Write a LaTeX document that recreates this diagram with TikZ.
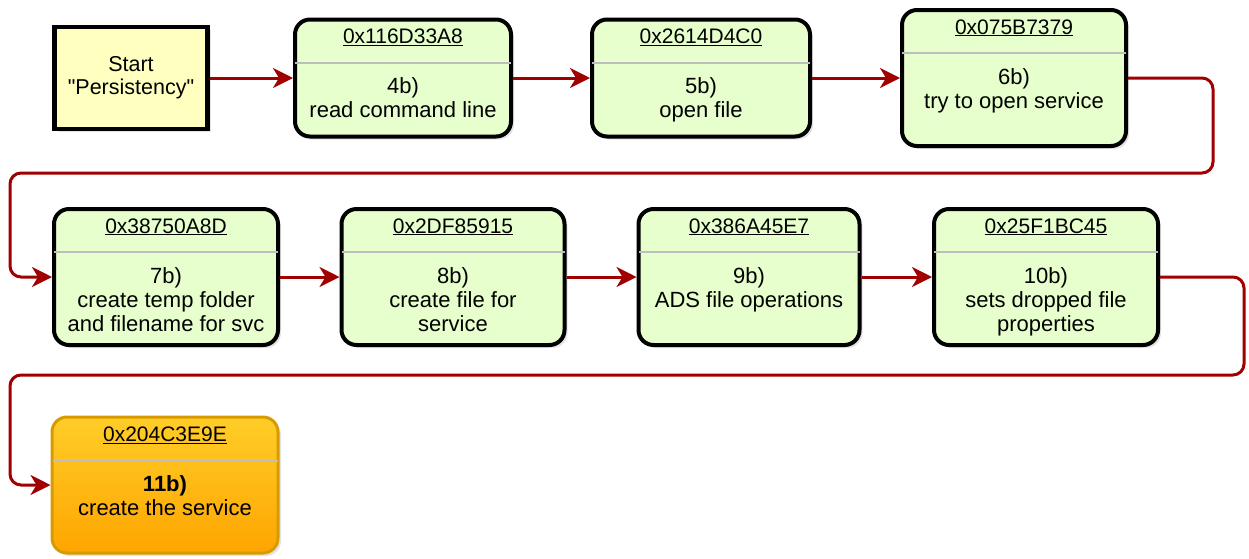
\documentclass[tikz,border=0pt]{standalone}
\usepackage{fontspec}
\setmainfont{Liberation Sans}[Ligatures=TeXOff]
\usetikzlibrary{arrows.meta,shadows,calc}
\definecolor{boxgreen}{HTML}{E6FFCC}
\definecolor{startyellow}{HTML}{FFFFC0}
\definecolor{orangetop}{HTML}{FFCD28}
\definecolor{orangebot}{HTML}{FFA500}
\definecolor{orangeline}{HTML}{D79B00}
\definecolor{connred}{HTML}{A00000}
\definecolor{divgray}{HTML}{BEBEBE}
\newcommand{\mybox}[8][greenbox]{%
  \node[#1, minimum width=#5pt, minimum height=#6pt] (#2) at (#3,#4) {};
  \draw[divider] ($(#2.north west)+(2,45)$) -- ($(#2.north east)+(-2,45)$);
  \node[hdr, anchor=base] (#2h) at ($(#2.north)+(0,26)$) {\underline{#7}};
  \node[body, anchor=north] (#2b) at ($(#2.north)+(0,59)$) {\strut #8};
}
\begin{document}
\begin{tikzpicture}[x=1pt,y=-1pt,
  boxshadow/.style={drop shadow={opacity=0.22, shadow xshift=3pt, shadow yshift=-3pt}},
  greenbox/.style={draw=black, line width=4pt, rounded corners=15pt, fill=boxgreen, boxshadow, inner sep=0pt},
  orangebox/.style={draw=orangeline, line width=3pt, rounded corners=15pt, top color=orangetop, bottom color=orangebot, boxshadow, inner sep=0pt},
  startbox/.style={draw=black, line width=4.5pt, fill=startyellow, boxshadow, inner sep=0pt, align=center, font=\fontsize{21.5}{23}\selectfont},
  divider/.style={draw=divgray, line width=2pt},
  hdr/.style={inner sep=0pt, font=\fontsize{21}{24}\selectfont},
  body/.style={inner sep=0pt, align=center, font=\fontsize{22}{24}\selectfont},
  conn/.style={draw=connred, line width=3pt, -{Stealth[length=20pt,width=20pt,inset=6pt]}},
]
\useasboundingbox (0,0) rectangle (1249,558);
\node[startbox, minimum width=153pt, minimum height=102pt] (start) at (131,78) {Start\\"Persistency"};
\mybox{b1}{403}{78}{216}{117}{0x116D33A8}{4b)\\read command line}
\mybox{b2}{701}{78}{218}{117}{0x2614D4C0}{5b)\\open file}
\mybox{b3}{1014}{78}{224}{136}{0x075B7379}{6b)\\try to open service}
\mybox{b7}{166}{277}{224}{136}{0x38750A8D}{7b)\\create temp folder\\and filename for svc}
\mybox{b8}{453}{277}{223}{136}{0x2DF85915}{8b)\\create file for\\service}
\mybox{b9}{749}{277}{221}{136}{0x386A45E7}{9b)\\ADS file operations}
\mybox{b10}{1046}{277}{224}{136}{0x25F1BC45}{10b)\\sets dropped file\\properties}
\mybox[orangebox]{b11}{165}{485}{226}{136}{0x204C3E9E}{\textbf{11b)}\\create the service}
\coordinate (r1) at (1213,173);
\coordinate (l1) at (10,173);
\coordinate (r2) at (1244,375);
\coordinate (l2) at (10,375);
\draw[conn] (start) -- (b1);
\draw[conn] (b1) -- (b2);
\draw[conn] (b2) -- (b3);
\draw[conn, rounded corners=11pt] (b3.east) -| (r1) -- (l1) |- (b7.west);
\draw[conn] (b7) -- (b8);
\draw[conn] (b8) -- (b9);
\draw[conn] (b9) -- (b10);
\draw[conn, rounded corners=11pt] (b10.east) -| (r2) -- (l2) |- (b11.west);
\end{tikzpicture}
\end{document}
